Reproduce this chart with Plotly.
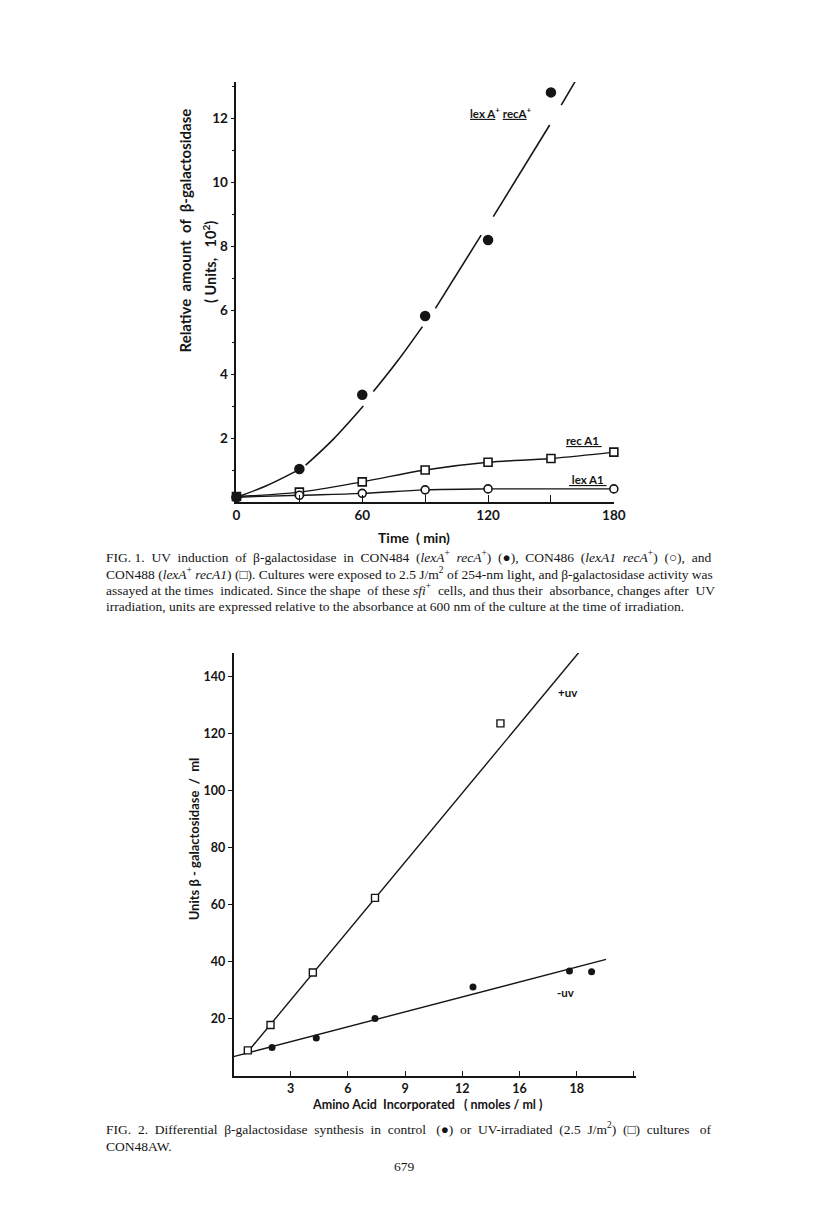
import plotly.graph_objects as go

PAGE_W, PAGE_H = 816, 1226
BODY = 8  # default page margin around the plot div
W, H = PAGE_W - BODY, PAGE_H - BODY
INK = "#151515"
SANS = "Lato"
SERIF = "Liberation Serif"
NB = "\u00a0"

# ---------------------------------------------------------------------------
# Fig. 1 data: time (min) vs relative beta-galactosidase (units x 10^2)
# ---------------------------------------------------------------------------
time_wt = [0, 30, 60, 90, 120, 150]
lexA_recA = [0.15, 1.03, 3.35, 5.81, 8.19, 12.8]

time_recA1 = [0, 30, 60, 90, 120, 150, 180]
recA1 = [0.17, 0.31, 0.63, 1.0, 1.24, 1.36, 1.56]

time_lexA1 = [0, 30, 60, 90, 120, 180]
lexA1 = [0.15, 0.21, 0.27, 0.38, 0.41, 0.41]

# hand-drawn curve for lexA+ recA+ (broken near points)
curve_x = [0, 14, 28, None, 33, 46, 60.5, None, 65.3, 77, 88.7, None,
           94.9, 116.7, None, 122.5, 149.4, None, 154.9, 162.7]
curve_y = [0.15, 0.5, 0.95, None, 1.15, 1.95, 3.0, None, 3.45, 4.42, 5.48, None,
           6.05, 8.34, None, 8.92, 11.78, None, 12.4, 13.27]

fig1_xticks = [0, 60, 120, 180]
fig1_xminor = [30, 90, 150]
fig1_yticks = [2, 4, 6, 8, 10, 12]
fig1_yminor = [1, 3, 5, 7, 9, 11, 13]

# ---------------------------------------------------------------------------
# Fig. 2 data: amino acid incorporated (nmoles/ml) vs units / ml
# ---------------------------------------------------------------------------
aa_uv = [0.75, 1.94, 4.16, 7.42, 14.0]
units_uv = [9.0, 17.9, 36.3, 62.5, 123.7]

aa_ctrl = [2.02, 4.34, 7.42, 12.56, 17.62, 18.78]
units_ctrl = [10.0, 13.3, 20.2, 31.2, 36.8, 36.6]

fit_uv_x = [0.75, 18.1]
fit_uv_y = [8.5, 148.5]
fit_ctrl_x = [0, 19.54]
fit_ctrl_y = [6.8, 40.9]

fig2_xticks = [3, 6, 9, 12, 15, 18, 21]
fig2_xlabels = ["3", "6", "9", "12", "16", "18", ""]
fig2_yticks = [20, 40, 60, 80, 100, 120, 140]


# page pixel -> paper fraction
def px_x(p):
    return (p - BODY) / W


def px_y(p):
    return 1 - (p - BODY) / H


def justify(text, n_extra):
    # spread n_extra non-breaking spaces over the word gaps
    words = text.split(" ")
    gaps = len(words) - 1
    out = words[0]
    for i in range(gaps):
        add = (i + 1) * n_extra // gaps - i * n_extra // gaps
        out += " " + NB * add + words[i + 1]
    return out


fig = go.Figure()

# ---- Fig. 1 traces
fig.add_trace(go.Scatter(x=curve_x, y=curve_y, mode="lines", line_shape="spline",
                         connectgaps=False, line=dict(color=INK, width=1.6),
                         xaxis="x", yaxis="y", cliponaxis=False))
fig.add_trace(go.Scatter(x=time_recA1, y=recA1, mode="lines+markers", line_shape="spline",
                         line=dict(color=INK, width=1.4),
                         marker=dict(symbol="square", size=8, color="white",
                                     line=dict(color=INK, width=1.6)),
                         xaxis="x", yaxis="y", cliponaxis=False))
fig.add_trace(go.Scatter(x=time_lexA1, y=lexA1, mode="lines+markers", line_shape="spline",
                         line=dict(color=INK, width=1.4),
                         marker=dict(symbol="circle", size=8, color="white",
                                     line=dict(color=INK, width=1.6)),
                         xaxis="x", yaxis="y", cliponaxis=False))
fig.add_trace(go.Scatter(x=time_wt, y=lexA_recA, mode="markers",
                         marker=dict(symbol="circle", size=10.5, color=INK),
                         xaxis="x", yaxis="y", cliponaxis=False))

# ---- Fig. 2 traces
fig.add_trace(go.Scatter(x=fit_uv_x, y=fit_uv_y, mode="lines",
                         line=dict(color=INK, width=1.4),
                         xaxis="x2", yaxis="y2", cliponaxis=False))
fig.add_trace(go.Scatter(x=fit_ctrl_x, y=fit_ctrl_y, mode="lines",
                         line=dict(color=INK, width=1.4),
                         xaxis="x2", yaxis="y2", cliponaxis=False))
fig.add_trace(go.Scatter(x=aa_ctrl, y=units_ctrl, mode="markers",
                         marker=dict(symbol="circle", size=7, color=INK),
                         xaxis="x2", yaxis="y2", cliponaxis=False))
fig.add_trace(go.Scatter(x=aa_uv, y=units_uv, mode="markers",
                         marker=dict(symbol="square", size=7, color="white",
                                     line=dict(color=INK, width=1.4)),
                         xaxis="x2", yaxis="y2", cliponaxis=False))

axis_common = dict(showline=True, linecolor=INK, linewidth=1.6, showgrid=False,
                   zeroline=False, tickcolor=INK, tickwidth=1.4)
font1 = dict(family=SANS, size=13.5, color=INK, weight="bold")
font2 = dict(family=SANS, size=12.5, color=INK, weight="bold")

fig.update_layout(
    width=W, height=H, margin=dict(l=0, r=0, t=0, b=0),
    paper_bgcolor="white", plot_bgcolor="white", showlegend=False,
    xaxis=dict(domain=[px_x(237), px_x(622)], range=[0, 180], anchor="y",
               tickmode="array", tickvals=fig1_xticks, ticks="inside", ticklen=7,
               minor=dict(tickvals=fig1_xminor, ticks="inside", ticklen=7,
                          tickcolor=INK, tickwidth=1.4),
               tickfont=font1, **axis_common),
    yaxis=dict(domain=[px_y(502), px_y(82)], range=[0, 13.125], anchor="x",
               tickmode="array", tickvals=fig1_yticks, ticks="outside", ticklen=4,
               minor=dict(tickvals=fig1_yminor, ticks="outside", ticklen=3,
                          tickcolor=INK, tickwidth=1.2),
               tickfont=font1, **axis_common),
    xaxis2=dict(domain=[px_x(234), px_x(645)], range=[0, 21.13], anchor="y2",
                tickmode="array", tickvals=fig2_xticks, ticktext=fig2_xlabels,
                ticks="inside", ticklen=5, tickfont=font2, **axis_common),
    yaxis2=dict(domain=[px_y(1076), px_y(653)], range=[0, 148.4], anchor="x2",
                tickmode="array", tickvals=fig2_yticks, ticks="outside", ticklen=4,
                tickfont=font2, **axis_common),
)

ann = []


def label(x, y, text, size=12, family=SANS, angle=0, xanchor="center", weight="bold"):
    ann.append(dict(x=px_x(x), y=px_y(y), xref="paper", yref="paper", text=text,
                    showarrow=False, textangle=angle, xanchor=xanchor, yanchor="middle",
                    borderpad=0,
                    font=dict(family=family, size=size, color=INK, weight=weight)))


# Fig. 1 axis titles and curve labels
label(184, 231, "Relative" + NB * 2 + "amount" + NB * 2 + "of" + NB * 2 + "β-galactosidase",
      size=15, angle=-90)
label(210, 262, "(" + NB + "Units," + NB * 3 + "10<sup>2</sup>)", size=14.5, angle=-90)
label(418, 537, "Time" + NB * 2 + "(" + NB + "min)", size=14)
label(507, 112, "<u>lex A</u><sup>+</sup> <u>recA</u><sup>+</sup>", size=11.5)
label(592, 440, "<u>rec A1 </u>", size=11.5)
label(596, 480, "<u> lex A1 </u>", size=11.5)

# Fig. 2 axis titles and line labels
label(194, 839, "Units" + NB + "β" + NB + "-" + NB + "galactosidase" + NB * 2 + "/" + NB * 2 + "ml",
      size=13, angle=-90)
label(431, 1104, "Amino" + NB + "Acid" + NB * 2 + "Incorporated" + NB * 3 + "(" + NB
      + "nmoles" + NB + "/" + NB + "ml" + NB + ")", size=12.5)
label(575, 692, "+uv", size=11.5)
label(573, 992, "-uv", size=11.5)

# captions (extra spaces imitate the justified setting)
cap1 = [
    "FIG. 1. UV induction of β-galactosidase in CON484 (<i>lexA</i><sup>+</sup> "
    "<i>recA</i><sup>+</sup>) (●), CON486 (<i>lexA1 recA</i><sup>+</sup>) (○), and",
    "CON488 (<i>lexA</i><sup>+</sup> <i>recA1</i>) (□). Cultures were exposed to 2.5 "
    "J/m<sup>2</sup> of 254-nm light, and β-galactosidase activity was",
    "assayed at the times indicated. Since the shape of these <i>sfi</i><sup>+</sup> "
    "cells, and thus their absorbance, changes after UV",
    "irradiation, units are expressed relative to the absorbance at 600 nm of the "
    "culture at the time of irradiation.",
]
cap1_pad = [14, 0, 5, 0]
cap1_y = [556, 573, 589, 606]
for line, pad, yy in zip(cap1, cap1_pad, cap1_y):
    label(103, yy, justify(line, pad), size=13.5, family=SERIF, xanchor="left",
          weight="normal")

cap2 = [
    "FIG. 2. Differential β-galactosidase synthesis in control (●) or UV-irradiated "
    "(2.5 J/m<sup>2</sup>) (□) cultures of",
    "CON48AW.",
]
cap2_pad = [16, 0]
cap2_y = [1128, 1146]
for line, pad, yy in zip(cap2, cap2_pad, cap2_y):
    label(103, yy, justify(line, pad), size=13.5, family=SERIF, xanchor="left",
          weight="normal")

label(408, 1166, "679", size=13.5, family=SERIF, weight="normal")

fig.update_layout(annotations=ann)
fig.write_html("out.html")
